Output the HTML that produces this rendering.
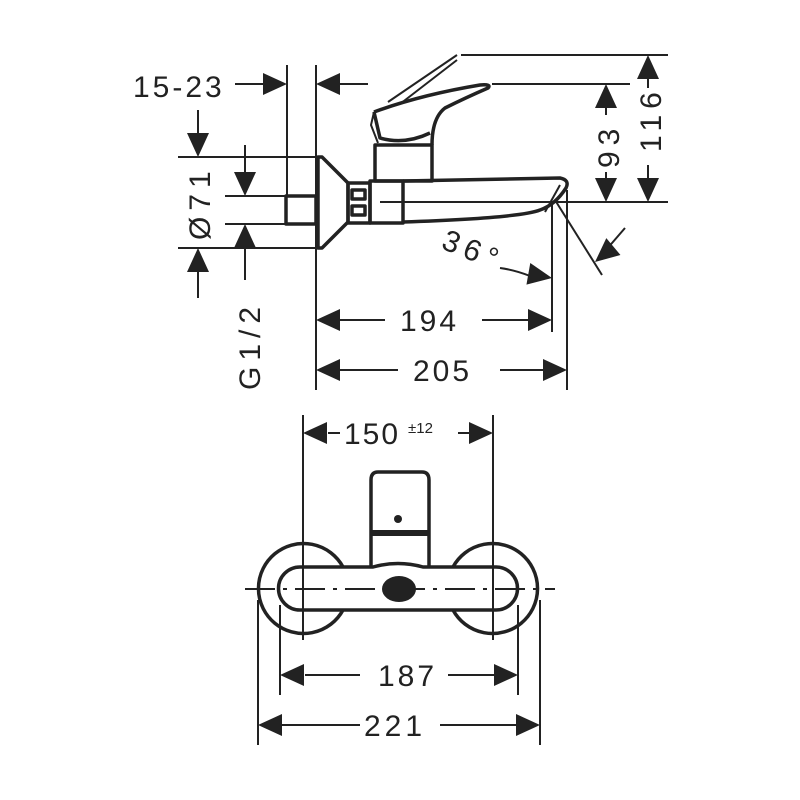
<!DOCTYPE html>
<html><head><meta charset="utf-8"><style>body{margin:0;background:#fff}svg{display:block}</style></head>
<body>
<svg width="800" height="800" viewBox="0 0 800 800" xmlns="http://www.w3.org/2000/svg" font-family="Liberation Sans, sans-serif" fill="none" stroke="#222">
<defs>
<path id="ar" d="M0 0 L-24 -11 L-24 11 Z" fill="#222" stroke="none"/>
</defs>
<g stroke-width="2">
<line x1="287" y1="65" x2="287" y2="196"/>
<line x1="316" y1="65" x2="316" y2="390"/>
<line x1="235" y1="84" x2="265" y2="84"/>
<line x1="340" y1="84" x2="368" y2="84"/>
<line x1="178" y1="157" x2="316" y2="157"/>
<line x1="178" y1="248" x2="316" y2="248"/>
<line x1="225" y1="196" x2="285" y2="196"/>
<line x1="225" y1="224" x2="285" y2="224"/>
<line x1="198" y1="110" x2="198" y2="135"/>
<line x1="198" y1="270" x2="198" y2="298"/>
<line x1="245" y1="145" x2="245" y2="175"/>
<line x1="245" y1="246" x2="245" y2="280"/>
<line x1="461" y1="55" x2="668" y2="55"/>
<line x1="492" y1="84" x2="630" y2="84"/>
<line x1="380" y1="202" x2="668" y2="202"/>
<line x1="606" y1="108" x2="606" y2="115"/><line x1="606" y1="172" x2="606" y2="180"/>
<line x1="648" y1="78" x2="648" y2="88"/><line x1="648" y1="165" x2="648" y2="180"/>
<line x1="552" y1="205" x2="552" y2="332"/>
<line x1="567" y1="190" x2="567" y2="390"/>
<line x1="340" y1="320" x2="385" y2="320"/><line x1="482" y1="320" x2="530" y2="320"/>
<line x1="340" y1="370" x2="398" y2="370"/><line x1="500" y1="370" x2="545" y2="370"/>
<line x1="555" y1="200" x2="602" y2="275"/>
<line x1="606" y1="250" x2="625" y2="228"/>
<path d="M500 268 Q515 270 530 276"/>
<line x1="457" y1="55" x2="388" y2="102"/>
<line x1="457" y1="60" x2="400" y2="104"/>
</g>
<use href="#ar" transform="translate(287,84)"/>
<use href="#ar" transform="translate(316,84) rotate(180)"/>
<use href="#ar" transform="translate(198,157) rotate(90)"/>
<use href="#ar" transform="translate(198,248) rotate(-90)"/>
<use href="#ar" transform="translate(245,196) rotate(90)"/>
<use href="#ar" transform="translate(245,224) rotate(-90)"/>
<use href="#ar" transform="translate(606,84) rotate(-90)"/>
<use href="#ar" transform="translate(606,202) rotate(90)"/>
<use href="#ar" transform="translate(648,55) rotate(-90)"/>
<use href="#ar" transform="translate(648,202) rotate(90)"/>
<use href="#ar" transform="translate(316,320) rotate(180)"/>
<use href="#ar" transform="translate(552,320)"/>
<use href="#ar" transform="translate(316,370) rotate(180)"/>
<use href="#ar" transform="translate(567,370)"/>
<use href="#ar" transform="translate(552,278) rotate(10)"/>
<use href="#ar" transform="translate(595,262) rotate(140)"/>
<g stroke-width="3.5" stroke-linejoin="round">
<rect x="286" y="196" width="30" height="28"/>
<path d="M318 157 L322 157 L348 183 L348 222 L322 248 L318 248 Z"/>
<rect x="348" y="183" width="22" height="40"/>
<rect x="352" y="190" width="13" height="9"/><rect x="352" y="206" width="13" height="9"/>
<rect x="370" y="181" width="33" height="42"/>
<path d="M403 181 L560 178 Q570 180 566 188 Q555 205 540 210 Q520 218 403 222"/>
<rect x="375" y="145" width="57" height="36"/>
<path d="M374 112 Q420 95 480 85 Q492 84 488 88 Q465 98 445 108 Q432 118 432 145"/>
<path d="M374 112 L380 138 Q405 145 430 133"/>
</g>
<g stroke-width="2"><path d="M560 185 L545 212"/><path d="M374 112 L371 125 L378 143"/></g>
<g fill="#222" stroke="none" font-size="30">
<text x="133" y="97" letter-spacing="3">15-23</text>
<text x="400" y="331" letter-spacing="3">194</text>
<text x="413" y="381" letter-spacing="3">205</text>
<text transform="translate(210,240) rotate(-90)" letter-spacing="6">Ø71</text>
<text transform="translate(260,390) rotate(-90)" letter-spacing="6">G1/2</text>
<text transform="translate(619,168) rotate(-90)" letter-spacing="6">93</text>
<text transform="translate(661,152) rotate(-90)" letter-spacing="6">116</text>
<text transform="translate(440,248) rotate(22)" letter-spacing="6">36°</text>
</g>
<g stroke-width="2">
<line x1="303" y1="415" x2="303" y2="640"/>
<line x1="493" y1="415" x2="493" y2="640"/>
<line x1="328" y1="433" x2="340" y2="433"/><line x1="458" y1="433" x2="470" y2="433"/>
<line x1="258" y1="600" x2="258" y2="745"/>
<line x1="540" y1="600" x2="540" y2="745"/>
<line x1="280" y1="605" x2="280" y2="695"/>
<line x1="518" y1="605" x2="518" y2="695"/>
<line x1="305" y1="675" x2="360" y2="675"/><line x1="448" y1="675" x2="494" y2="675"/>
<line x1="282" y1="725" x2="360" y2="725"/><line x1="440" y1="725" x2="516" y2="725"/>
<line x1="245" y1="589" x2="555" y2="589" stroke-dasharray="30 8 4 8"/>
</g>
<use href="#ar" transform="translate(303,433) rotate(180)"/>
<use href="#ar" transform="translate(493,433)"/>
<use href="#ar" transform="translate(280,675) rotate(180)"/>
<use href="#ar" transform="translate(518,675)"/>
<use href="#ar" transform="translate(258,725) rotate(180)"/>
<use href="#ar" transform="translate(540,725)"/>
<g stroke-width="3.5">
<path d="M343 567 A45 45 0 1 0 343 610"/>
<path d="M453 567 A45 45 0 1 1 453 610"/>
<path d="M300 567 L373 567 Q398 560 423 567 L496 567 A21.5 21.5 0 0 1 496 610 L300 610 A21.5 21.5 0 0 1 300 567 Z"/>
<path d="M371 567 L371 480 Q371 472 378 472 L422 472 Q429 472 429 480 L429 567"/>
<line x1="371" y1="533" x2="429" y2="533" stroke-width="6"/>
</g>
<ellipse cx="399" cy="589" rx="17" ry="13" fill="#222" stroke="none"/>
<circle cx="398" cy="519" r="4" fill="#222" stroke="none"/>
<g fill="#222" stroke="none" font-size="30">
<text x="344" y="444" letter-spacing="2">150</text>
<text x="408" y="433" font-size="15">±12</text>
<text x="378" y="686" letter-spacing="3">187</text>
<text x="364" y="736" letter-spacing="4">221</text>
</g>
</svg>
</body></html>
